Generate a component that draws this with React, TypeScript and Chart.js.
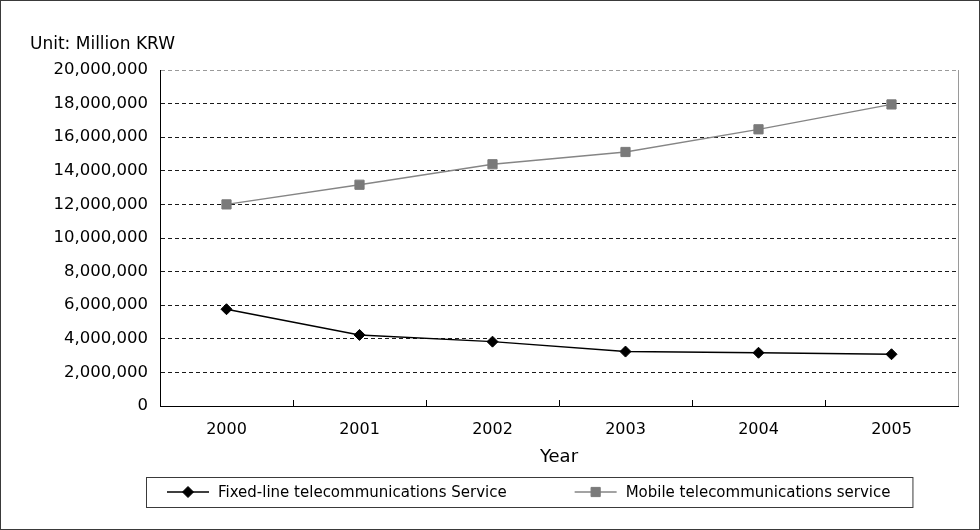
import { useEffect, useRef } from "react";
import { Chart, registerables } from "chart.js";
import { drawPoint } from "chart.js/helpers";

Chart.register(...registerables);

// Revenue by service type, in million KRW
const years = ["2000", "2001", "2002", "2003", "2004", "2005"];
const fixedLineRevenue = [5760000, 4230000, 3830000, 3240000, 3170000, 3080000];
const mobileRevenue = [12000000, 13170000, 14390000, 15120000, 16470000, 17950000];
const seriesNames = ["Fixed-line telecommunications Service", "Mobile telecommunications service"];
const yMin = 0;
const yMax = 20000000;
const yStep = 2000000;
const unitLabel = "Unit: Million KRW";
const xTitle = "Year";

const FONT = "'DejaVu Sans', 'Liberation Sans', Arial, sans-serif";
const FIXED_COLOR = "#000000";
const MOBILE_COLOR = "#858585";

// Outer frame, unit caption, right plot edge and inward category tick marks
const decorations = {
  id: "decorations",
  afterDraw(chart: any) {
    const { ctx, chartArea } = chart;
    const x = chart.scales.x;
    ctx.save();
    // unit caption
    ctx.fillStyle = "#000";
    ctx.font = `17px ${FONT}`;
    ctx.textAlign = "left";
    ctx.textBaseline = "alphabetic";
    ctx.fillText(unitLabel, 30, 49);

    // right edge of the plot
    ctx.strokeStyle = "#9a9a9a";
    ctx.lineWidth = 1;
    ctx.beginPath();
    ctx.moveTo(Math.round(chartArea.right) + 0.5, chartArea.top);
    ctx.lineTo(Math.round(chartArea.right) + 0.5, chartArea.bottom);
    ctx.stroke();

    // tick marks between categories, pointing into the plot
    ctx.strokeStyle = "#000";
    ctx.beginPath();
    for (let i = 1; i < years.length; i++) {
      const px = Math.round((x.getPixelForValue(i - 1) + x.getPixelForValue(i)) / 2) + 0.5;
      ctx.moveTo(px, chartArea.bottom);
      ctx.lineTo(px, chartArea.bottom - 6);
    }
    ctx.stroke();

    // outer frame
    ctx.strokeStyle = "#3a3a3a";
    ctx.strokeRect(0.5, 0.5, chart.width - 1, chart.height - 1);
    ctx.restore();
  },
};

// Boxed legend below the axis title: line + marker sample, then the label
const boxedLegend = {
  id: "boxedLegend",
  afterDraw(chart: any) {
    const { ctx } = chart;
    const boxLeft = 146;
    const boxTop = 477;
    const boxHeight = 30;
    const cy = boxTop + boxHeight / 2;
    const sampleLen = 42;
    const textGap = 9;
    const itemGap = 68;
    const padLeft = 21;
    const padRight = 22;

    ctx.save();
    ctx.font = `15px ${FONT}`;
    ctx.textBaseline = "middle";
    ctx.textAlign = "left";

    let cursor = boxLeft + padLeft;
    chart.data.datasets.forEach((ds: any, i: number) => {
      const x0 = cursor;
      ctx.strokeStyle = ds.borderColor;
      ctx.lineWidth = ds.borderWidth;
      ctx.beginPath();
      ctx.moveTo(x0, cy);
      ctx.lineTo(x0 + sampleLen, cy);
      ctx.stroke();
      ctx.fillStyle = ds.pointBackgroundColor;
      ctx.strokeStyle = ds.pointBorderColor;
      ctx.lineWidth = ds.pointBorderWidth;
      drawPoint(
        ctx,
        { pointStyle: ds.pointStyle, radius: ds.pointRadius, borderWidth: ds.pointBorderWidth, rotation: 0 } as any,
        x0 + sampleLen / 2,
        cy
      );
      ctx.fillStyle = "#000";
      const tx = x0 + sampleLen + textGap;
      ctx.fillText(ds.label, tx, cy + 1);
      cursor = tx + ctx.measureText(ds.label).width + (i < chart.data.datasets.length - 1 ? itemGap : 0);
    });
    const boxRight = cursor + padRight;

    ctx.strokeStyle = "#3a3a3a";
    ctx.lineWidth = 1;
    ctx.strokeRect(boxLeft + 0.5, boxTop + 0.5, boxRight - boxLeft, boxHeight);
    ctx.restore();
  },
};

export default function App() {
  const canvasRef = useRef<HTMLCanvasElement | null>(null);

  useEffect(() => {
    if (!canvasRef.current) return;
    const chart = new Chart(canvasRef.current, {
      type: "line",
      data: {
        labels: years,
        datasets: [
          {
            label: seriesNames[0],
            data: fixedLineRevenue,
            borderColor: FIXED_COLOR,
            borderWidth: 1.4,
            pointStyle: "rectRot",
            pointRadius: 5.5,
            pointBackgroundColor: FIXED_COLOR,
            pointBorderColor: FIXED_COLOR,
            pointBorderWidth: 1,
            tension: 0,
          },
          {
            label: seriesNames[1],
            data: mobileRevenue,
            borderColor: MOBILE_COLOR,
            borderWidth: 1.3,
            pointStyle: "rect",
            pointRadius: 6.5,
            pointBackgroundColor: "#7a7a7a",
            pointBorderColor: "#7a7a7a",
            pointBorderWidth: 1,
            tension: 0,
          },
        ],
      },
      options: {
        animation: false,
        responsive: false,
        layout: { padding: { top: 70, right: 22, left: 0, bottom: 0 } },
        plugins: {
          legend: { display: false },
          tooltip: { enabled: false },
        },
        scales: {
          x: {
            type: "category",
            offset: true,
            grid: { display: false, drawTicks: false },
            border: { display: true, color: "#000", width: 1 },
            ticks: {
              padding: 14,
              color: "#000",
              font: { family: FONT, size: 16 },
              maxRotation: 0,
            },
            title: {
              display: true,
              text: xTitle,
              color: "#000",
              font: { family: FONT, size: 18 },
              padding: { top: 0, bottom: 62 },
            },
            afterFit(scale: any) {
              scale.height = 124;
            },
          },
          y: {
            min: yMin,
            max: yMax,
            ticks: {
              stepSize: yStep,
              padding: 12,
              color: "#000",
              font: { family: FONT, size: 16.5 },
              callback: (v: any) => Number(v).toLocaleString("en-US"),
            },
            grid: {
              drawTicks: false,
              lineWidth: 1,
              color: (c: any) => (c.tick && c.tick.value === yMax ? "#9a9a9a" : "#1a1a1a"),
            },
            border: { display: true, color: "#000", width: 1, dash: [4, 3] },
            afterFit(scale: any) {
              scale.width = 160;
            },
          },
        },
      },
      plugins: [decorations, boxedLegend],
    });
    return () => chart.destroy();
  }, []);

  return (
    <div style={{ position: "absolute", left: 0, top: 0, width: 980, height: 530, background: "#fff" }}>
      <canvas ref={canvasRef} width={980} height={530} />
    </div>
  );
}
